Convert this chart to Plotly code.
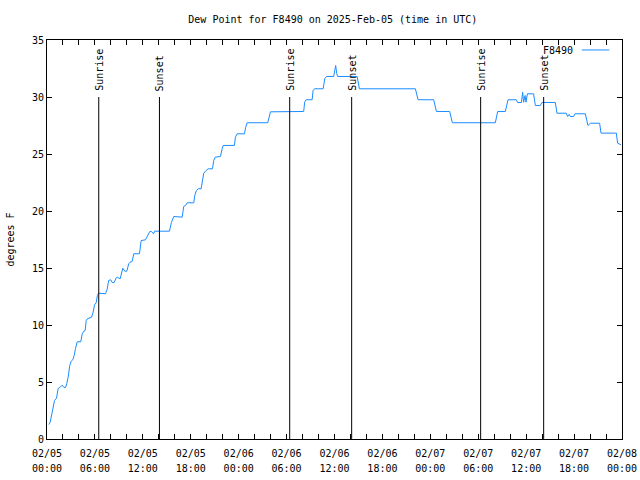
import pandas as pd
import plotly.graph_objects as go

# hours since 2025-02-05 00:00 UTC, dew point in degrees F
hours = [0.23, 0.40, 0.65, 0.94, 1.19, 1.40, 1.65, 1.90, 2.10, 2.32, 2.48, 2.65, 2.85, 3.03, 3.23, 3.40,
         3.57, 3.78, 4.23, 4.41, 4.61, 4.78, 4.91, 5.03, 5.57, 5.78, 5.95, 6.16, 6.31, 6.47,
         7.32, 7.52, 7.72, 7.97, 8.16, 8.41, 8.66, 8.82, 9.16, 9.36, 9.49, 9.74, 9.99, 10.24, 10.41,
         10.66, 10.87, 11.58, 11.79, 12.33, 12.62, 12.87, 13.08, 13.33, 13.49, 15.33, 15.58, 15.87,
         16.92, 17.12, 17.34, 17.55, 18.38, 18.50, 18.71, 18.93, 19.30, 19.46, 19.55, 19.63, 19.84,
         20.18, 20.72, 20.88, 21.05, 21.72, 21.93, 22.06, 23.47, 23.59, 23.81, 24.72, 24.88, 25.06,
         27.64, 27.85, 27.98,
         32.14, 32.27, 32.45, 33.20, 33.32, 33.49, 34.58, 34.78, 34.99, 35.90, 36.03, 36.15, 36.28,
         36.40, 38.83, 38.95, 39.12, 46.13, 46.34, 46.46, 48.42, 48.63, 48.76, 50.42, 50.60, 50.76,
         56.14, 56.27, 56.43, 57.39, 57.52, 57.73, 58.77, 58.93, 59.40, 59.56, 59.68, 59.86, 59.98,
         60.15, 60.93, 61.15, 61.77, 61.98, 63.65, 63.86, 65.03, 65.19, 65.37, 65.53, 65.94, 66.12,
         67.40, 67.62, 67.74, 68.03, 69.20, 69.37, 71.29, 71.45, 71.88]
dewpoint = [1.27, 1.47, 2.35, 3.38, 3.58, 4.43, 4.54, 4.72, 4.54, 4.52, 4.87, 5.42, 6.45, 6.82, 6.95, 7.32,
            7.94, 8.53, 8.53, 9.23, 9.46, 9.52, 10.39, 10.54, 10.68, 11.12, 11.77, 11.95, 12.59, 12.79,
            12.74, 13.09, 13.90, 13.97, 13.73, 13.73, 14.14, 14.19, 14.05, 14.78, 14.98, 14.72, 14.72, 15.37, 15.51,
            15.57, 16.25, 16.25, 17.41, 17.47, 17.85, 18.20, 18.20, 18.00, 18.23, 18.23, 18.99, 19.52,
            19.46, 20.40, 20.48, 20.72, 20.72, 21.36, 21.80, 21.95, 21.95, 22.53, 22.97, 23.32, 23.49,
            23.70, 23.70, 24.43, 24.72, 24.78, 25.46, 25.75, 25.75, 26.47, 26.77, 26.77, 27.35, 27.74,
            27.74, 28.53, 28.70,
            28.73, 29.55, 29.76, 29.76, 30.57, 30.72, 30.72, 31.60, 31.80, 31.80, 32.33, 32.76, 32.04,
            31.80, 31.80, 31.45, 30.72, 30.72, 29.98, 29.76, 29.76, 28.97, 28.73, 28.73, 28.09, 27.74,
            27.74, 28.38, 28.73, 28.73, 29.25, 29.76, 29.76, 29.52, 29.52, 30.42, 29.54, 30.13, 29.54,
            30.28, 30.28, 29.25, 29.25, 29.52, 29.52, 28.58, 28.58, 28.29, 28.47, 28.29, 28.29, 28.53,
            28.53, 27.65, 27.50, 27.70, 27.70, 26.83, 26.83, 25.95, 25.81]

sun_hours = [6.48, 14.08, 30.39, 38.15, 54.30, 62.19]
sun_labels = ["Sunrise", "Sunset", "Sunrise", "Sunset", "Sunrise", "Sunset"]

tick_hours = [0, 6, 12, 18, 24, 30, 36, 42, 48, 54, 60, 66, 72]
tick_dates = ["02/05", "02/05", "02/05", "02/05", "02/06", "02/06", "02/06", "02/06",
              "02/07", "02/07", "02/07", "02/07", "02/08"]
tick_clock = ["00:00", "06:00", "12:00", "18:00", "00:00", "06:00", "12:00", "18:00",
              "00:00", "06:00", "12:00", "18:00", "00:00"]

base = pd.Timestamp("2025-02-05 00:00")
def to_time(h):
    return base + pd.to_timedelta(h, unit="h")

times = [to_time(h) for h in hours]
tick_times = [to_time(h) for h in tick_hours]

FONT = "DejaVu Sans Mono"
LINE_COLOR = "#1a8cff"
tfont = dict(family=FONT, size=10, color="black")

fig = go.Figure()
fig.add_trace(go.Scatter(x=times, y=dewpoint, mode="lines",
                         line=dict(color=LINE_COLOR, width=1), name="F8490",
                         showlegend=False, hoverinfo="skip"))
# invisible helper trace carrying the second (clock) label row
fig.add_trace(go.Scatter(x=[tick_times[0], tick_times[-1]], y=[None, None], xaxis="x2",
                         mode="lines", showlegend=False, hoverinfo="skip"))

for h, lab in zip(sun_hours, sun_labels):
    t = to_time(h)
    fig.add_shape(type="line", x0=t, x1=t, y0=0, y1=30, xref="x", yref="y",
                  line=dict(color="black", width=1))
    fig.add_annotation(x=t, y=30, xref="x", yref="y", text=lab, showarrow=False,
                       textangle=-90, yanchor="bottom", xanchor="center", yshift=4,
                       font=tfont)

# legend (text then sample line, gnuplot style)
fig.add_annotation(x=0.919, y=0.973, xref="paper", yref="paper", text="F8490",
                   showarrow=False, xanchor="right", yanchor="middle", font=tfont)
fig.add_shape(type="line", x0=0.930, x1=0.978, y0=0.975, y1=0.975,
              xref="paper", yref="paper", line=dict(color=LINE_COLOR, width=1))

fig.update_layout(
    width=640, height=480,
    margin=dict(l=47, r=18, t=40, b=41, autoexpand=False),
    paper_bgcolor="white", plot_bgcolor="white",
    font=tfont,
    hovermode=False,
    title=dict(text="Dew Point for F8490 on 2025-Feb-05 (time in UTC)",
               x=0.52, xanchor="center", y=0.96, yanchor="middle", font=tfont),
    xaxis=dict(
        automargin=False,
        range=[to_time(0), to_time(72)],
        tickmode="array", tickvals=tick_times, ticktext=tick_dates,
        ticks="inside", ticklen=5, tickcolor="black", ticklabelstandoff=5,
        minor=dict(tickmode="linear", tick0=to_time(0), dtick=2 * 3600 * 1000,
                   ticks="inside", ticklen=5, tickcolor="black", showgrid=False),
        showline=True, linecolor="black", linewidth=1, mirror="ticks",
        showgrid=False, zeroline=False, tickfont=tfont,
    ),
    xaxis2=dict(
        automargin=False, overlaying="x", side="bottom", anchor="y",
        range=[to_time(0), to_time(72)],
        tickmode="array", tickvals=tick_times, ticktext=tick_clock,
        ticks="", ticklabelstandoff=22,
        showline=False, showgrid=False, zeroline=False, tickfont=tfont,
    ),
    yaxis=dict(
        automargin=False,
        range=[0, 35], tickmode="linear", tick0=0, dtick=5,
        ticks="inside", ticklen=5, tickcolor="black",
        showline=True, linecolor="black", linewidth=1, mirror="ticks",
        showgrid=False, zeroline=False,
        title=dict(text="degrees F", font=tfont, standoff=15),
        tickfont=tfont,
    ),
)

fig.write_html("out.html", config={"displayModeBar": False, "staticPlot": True},
               post_script="document.body.style.margin='0';document.body.style.overflow='hidden';")
